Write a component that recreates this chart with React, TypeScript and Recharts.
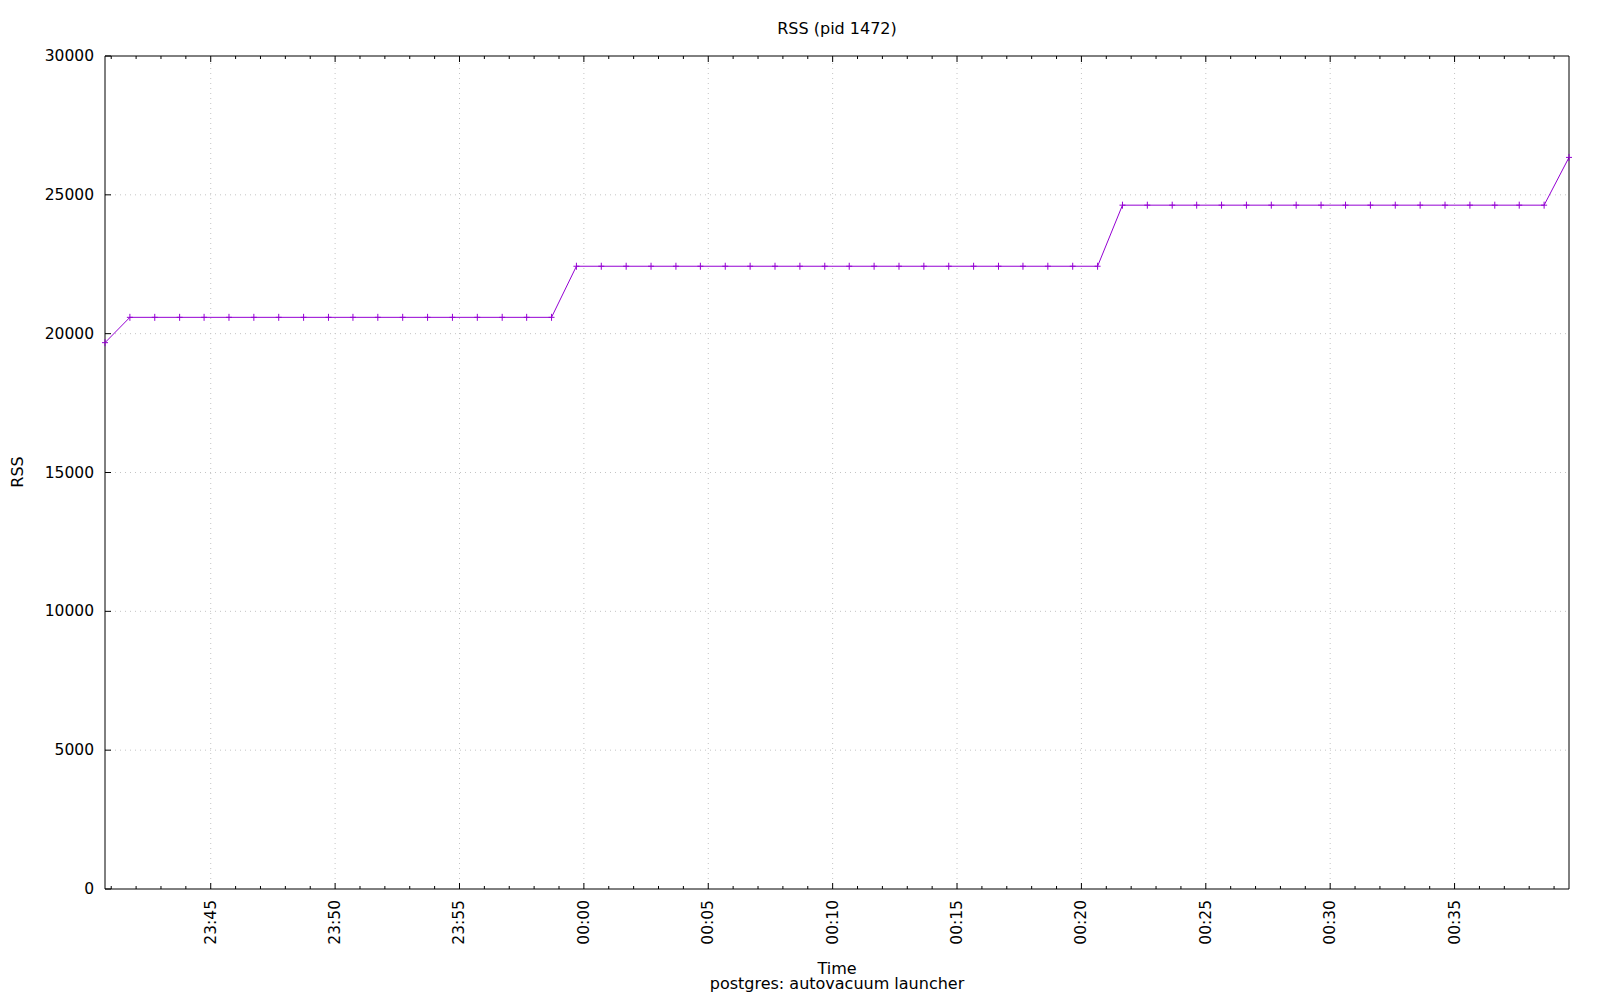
import React from "react";
import {
  LineChart,
  Line,
  XAxis,
  YAxis,
  ReferenceLine,
} from "recharts";

// sample timestamps (~1 per minute)
const TIMES = [
  "23:40:45", "23:41:45", "23:42:45", "23:43:45", "23:44:44", "23:45:44",
  "23:46:44", "23:47:44", "23:48:44", "23:49:44", "23:50:43", "23:51:43",
  "23:52:43", "23:53:43", "23:54:43", "23:55:43", "23:56:43", "23:57:42",
  "23:58:42", "23:59:42", "00:00:42", "00:01:42", "00:02:42", "00:03:42",
  "00:04:41", "00:05:41", "00:06:41", "00:07:41", "00:08:41", "00:09:41",
  "00:10:40", "00:11:40", "00:12:40", "00:13:40", "00:14:40", "00:15:40",
  "00:16:40", "00:17:39", "00:18:39", "00:19:39", "00:20:39", "00:21:39",
  "00:22:39", "00:23:39", "00:24:38", "00:25:38", "00:26:38", "00:27:38",
  "00:28:38", "00:29:38", "00:30:37", "00:31:37", "00:32:37", "00:33:37",
  "00:34:37", "00:35:37", "00:36:37", "00:37:36", "00:38:36", "00:39:36",
];

const RSS = [
  19676,
  20588, 20588, 20588, 20588, 20588, 20588, 20588, 20588, 20588,
  20588, 20588, 20588, 20588, 20588, 20588, 20588, 20588, 20588,
  22428, 22428, 22428, 22428, 22428, 22428, 22428, 22428, 22428, 22428, 22428,
  22428, 22428, 22428, 22428, 22428, 22428, 22428, 22428, 22428, 22428, 22428,
  24628, 24628, 24628, 24628, 24628, 24628, 24628, 24628, 24628,
  24628, 24628, 24628, 24628, 24628, 24628, 24628, 24628, 24628,
  26348,
];

const X_TICK_LABELS = [
  "23:45", "23:50", "23:55", "00:00", "00:05", "00:10",
  "00:15", "00:20", "00:25", "00:30", "00:35",
];
const Y_TICKS = [0, 5000, 10000, 15000, 20000, 25000, 30000];

const PURPLE = "#9400d3";
const GRID = "#c4c4c4";
const FONT = "'DejaVu Sans', sans-serif";
const FS = 15.5;
const FS_LABEL = 16;

// minutes relative to midnight (negative before 00:00)
function toMinutes(t: string) {
  const [h, m, s] = t.split(":").map(Number);
  const base = h >= 12 ? (h - 24) * 60 : h * 60;
  return base + m + (s || 0) / 60;
}

const data = TIMES.map((t, i) => ({ t: toMinutes(t), rss: RSS[i] }));
const X_MAJOR = X_TICK_LABELS.map(toMinutes);
const X_DOMAIN = [data[0].t, data[data.length - 1].t];
const X_MINOR: number[] = [];
for (let v = Math.ceil(X_DOMAIN[0]); v <= X_DOMAIN[1]; v++) X_MINOR.push(v);

const isMajor = (v: number) => X_MAJOR.some((m) => Math.abs(m - v) < 1e-6);
const labelFor = (v: number) => X_TICK_LABELS[X_MAJOR.findIndex((m) => Math.abs(m - v) < 1e-6)];

const BottomTick = (props: any) => {
  const { x, y, payload } = props;
  const major = isMajor(payload.value);
  return (
    <g>
      <line x1={x} x2={x} y1={y} y2={y - (major ? 6 : 3)} stroke="#000" />
      {major && (
        <text
          x={x}
          y={y + 11}
          transform={`rotate(-90 ${x} ${y + 11})`}
          textAnchor="end"
          dominantBaseline="central"
          fontFamily={FONT}
          fontSize={FS}
          fill="#000"
        >
          {labelFor(payload.value)}
        </text>
      )}
    </g>
  );
};

const TopTick = (props: any) => {
  const { x, y, payload } = props;
  const major = isMajor(payload.value);
  return <line x1={x} x2={x} y1={y} y2={y + (major ? 6 : 3)} stroke="#000" />;
};

const LeftTick = (props: any) => {
  const { x, y, payload } = props;
  return (
    <g>
      <line x1={x} x2={x + 6} y1={y} y2={y} stroke="#000" />
      <text
        x={x - 11}
        y={y}
        textAnchor="end"
        dominantBaseline="central"
        fontFamily={FONT}
        fontSize={FS}
        fill="#000"
      >
        {payload.value}
      </text>
    </g>
  );
};

const RightTick = (props: any) => {
  const { x, y } = props;
  return <line x1={x} x2={x - 6} y1={y} y2={y} stroke="#000" />;
};

const PlusDot = (props: any) => {
  const { cx, cy } = props;
  if (cx == null || cy == null) return null;
  return (
    <path
      d={`M${cx - 3},${cy}H${cx + 3}M${cx},${cy - 3.5}V${cy + 3.5}`}
      stroke={PURPLE}
      strokeWidth={1}
      fill="none"
    />
  );
};

export default function App() {
  return (
    <div style={{ position: "absolute", left: 0, top: 0, width: 1600, height: 1000, background: "#fff" }}>
      <LineChart
        width={1600}
        height={1000}
        data={data}
        margin={{ top: 46, right: 21, bottom: 51, left: 45 }}
      >
        <XAxis
          xAxisId="b"
          dataKey="t"
          type="number"
          domain={X_DOMAIN}
          ticks={X_MINOR}
          interval={0}
          height={60}
          tickSize={0}
          tickMargin={0}
          tickLine={false}
          axisLine={{ stroke: "#000", strokeWidth: 1 }}
          tick={<BottomTick />}
        />
        <XAxis
          xAxisId="t"
          orientation="top"
          dataKey="t"
          type="number"
          domain={X_DOMAIN}
          ticks={X_MINOR}
          interval={0}
          height={10}
          tickSize={0}
          tickMargin={0}
          tickLine={false}
          axisLine={{ stroke: "#000", strokeWidth: 1 }}
          tick={<TopTick />}
        />
        <YAxis
          yAxisId="l"
          type="number"
          domain={[0, 30000]}
          ticks={Y_TICKS}
          interval={0}
          width={60}
          tickSize={0}
          tickMargin={0}
          tickLine={false}
          axisLine={{ stroke: "#000", strokeWidth: 1 }}
          tick={<LeftTick />}
        />
        <YAxis
          yAxisId="r"
          orientation="right"
          type="number"
          domain={[0, 30000]}
          ticks={Y_TICKS}
          interval={0}
          width={10}
          tickSize={0}
          tickMargin={0}
          tickLine={false}
          axisLine={{ stroke: "#000", strokeWidth: 1 }}
          tick={<RightTick />}
        />
        {X_MAJOR.map((v) => (
          <ReferenceLine
            key={"vx" + v}
            xAxisId="b"
            yAxisId="l"
            x={v}
            stroke={GRID}
            strokeDasharray="1 4"
          />
        ))}
        {Y_TICKS.slice(1, -1).map((v) => (
          <ReferenceLine
            key={"hy" + v}
            xAxisId="b"
            yAxisId="l"
            y={v}
            stroke={GRID}
            strokeDasharray="1 4"
          />
        ))}
        <Line
          xAxisId="b"
          yAxisId="l"
          type="linear"
          dataKey="rss"
          stroke={PURPLE}
          strokeWidth={1}
          dot={<PlusDot />}
          activeDot={false}
          isAnimationActive={false}
        />
      </LineChart>
      <svg
        width={1600}
        height={1000}
        style={{ position: "absolute", left: 0, top: 0, pointerEvents: "none" }}
      >
        <g fontFamily={FONT} fontSize={FS_LABEL} fill="#000">
          <text x={837} y={28.5} textAnchor="middle" dominantBaseline="central">
            RSS (pid 1472)
          </text>
          <text
            x={17.5}
            y={472}
            textAnchor="middle"
            dominantBaseline="central"
            transform="rotate(-90 17.5 472)"
          >
            RSS
          </text>
          <text x={837} y={968} textAnchor="middle" dominantBaseline="central">
            Time
          </text>
          <text x={837} y={983.5} textAnchor="middle" dominantBaseline="central">
            postgres: autovacuum launcher
          </text>
        </g>
      </svg>
    </div>
  );
}
